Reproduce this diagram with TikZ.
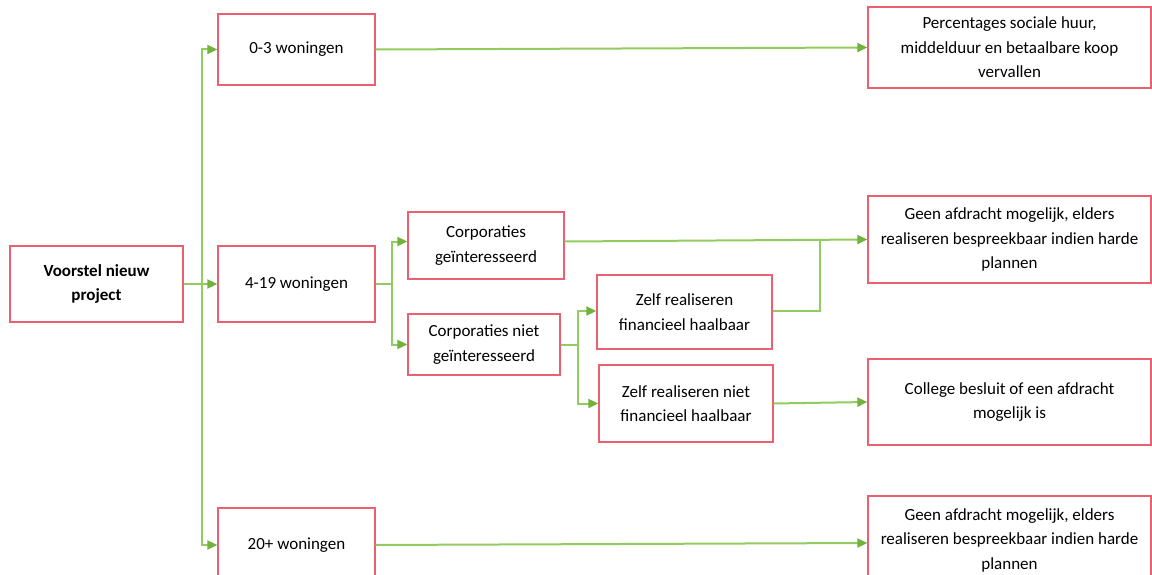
\documentclass[tikz,border=0pt]{standalone}
\usepackage{fontspec}
\setmainfont{Carlito}
\usetikzlibrary{arrows.meta}
\definecolor{boxred}{RGB}{234,96,112}
\definecolor{linegreen}{RGB}{146,204,96}
\definecolor{tipgreen}{RGB}{112,178,60}
\tikzset{
  box/.style={draw=boxred, line width=1.4pt, fill=white, inner sep=0pt, align=center,
    font=\fontsize{17}{24.5}\selectfont},
  conn/.style={draw=linegreen, line width=2pt},
  arr/.style={conn, -{Triangle[length=10pt,width=9pt,fill=tipgreen,color=tipgreen]}},
}
\begin{document}
\begin{tikzpicture}[x=1pt,y=-1pt]
\useasboundingbox (0,0) rectangle (1152,575);
\fill[white] (0,0) rectangle (1152,575);
% nodes
\node[box, minimum width=173, minimum height=76, font=\fontsize{17}{24.5}\selectfont\bfseries] (voorstel) at (96.5,284) {Voorstel nieuw\\project};
\node[box, minimum width=157, minimum height=71] (n03) at (296.5,49.5) {0-3 woningen};
\node[box, minimum width=157, minimum height=76] (n419) at (296.5,284) {4-19 woningen};
\node[box, minimum width=157, minimum height=74] (n20) at (296.5,545) {20+ woningen};
\node[box, minimum width=156, minimum height=67] (cg) at (486,245.5) {Corporaties\\geïnteresseerd};
\node[box, minimum width=152, minimum height=61] (cn) at (484,344.5) {Corporaties niet\\geïnteresseerd};
\node[box, minimum width=175, minimum height=74] (zr) at (684.5,312) {Zelf realiseren\\financieel haalbaar};
\node[box, minimum width=174, minimum height=77] (zn) at (686,403.5) {Zelf realiseren niet\\financieel haalbaar};
\node[box, minimum width=283, minimum height=81] (perc) at (1009.5,47.5) {Percentages sociale huur,\\middelduur en betaalbare koop\\vervallen};
\node[box, minimum width=283, minimum height=87] (gt) at (1009.5,239.5) {Geen afdracht mogelijk, elders\\realiseren bespreekbaar indien harde\\plannen};
\node[box, minimum width=283, minimum height=86] (col) at (1009.5,402) {College besluit of een afdracht\\mogelijk is};
\node[box, minimum width=283, minimum height=88] (gb) at (1009.5,540) {Geen afdracht mogelijk, elders\\realiseren bespreekbaar indien harde\\plannen};
% branch points
\coordinate (t) at (202,284);
\coordinate (b1) at (392,284);
\coordinate (b2) at (578,344.5);
\coordinate (m) at (820,240);
% connectors
\draw[conn] (voorstel.east) -- (t);
\draw[arr] (t) |- (n03.west);
\draw[arr] (t) -- (n419.west);
\draw[arr] (t) |- (n20.west);
\draw[conn] (n419.east) -- (b1);
\draw[arr] (b1) |- ([yshift=4]cg.west);
\draw[arr] (b1) |- (cn.west);
\draw[conn] (cn.east) -- (b2);
\draw[arr] (b2) |- ([yshift=1]zr.west);
\draw[arr] (b2) |- (zn.west);
\draw[arr] ([yshift=4]cg.east) -- (gt.west);
\draw[conn] ([yshift=1]zr.east) -| (m);
\draw[arr] (zn.east) -- (col.west);
\draw[arr] (n03.east) -- (perc.west);
\draw[arr] (n20.east) -- ([yshift=-3]gb.west);
\end{tikzpicture}
\end{document}
